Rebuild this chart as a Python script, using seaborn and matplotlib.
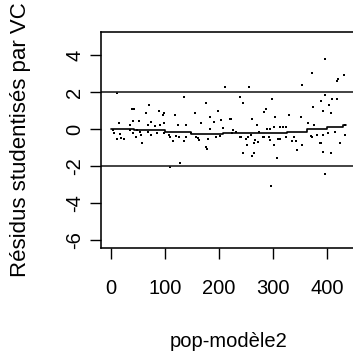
import numpy as np
import pandas as pd
import matplotlib
matplotlib.use("Agg")
import matplotlib.pyplot as plt
import seaborn as sns

# values
pop_x = [11, 71, 39, 43, 64, 88, 97, 14, 35, 41, 52, 68, 75, 81, 91, 3, 6, 17, 11, 18,
         25, 36, 41, 46, 56, 57, 74, 86, 48, 54, 68,
         135, 176, 198, 99, 118, 156, 184, 191, 204, 99, 124, 138, 167, 183, 207, 99, 107,
         110, 114, 121, 126, 135, 138, 157, 161, 163, 180, 176, 177, 195, 202, 127, 110, 149,
         255, 212, 238, 244, 298, 287, 283, 304, 329, 220, 222, 262, 270, 288, 294, 301, 313,
         319, 325, 224, 238, 241, 250, 253, 259, 267, 272, 281, 284, 293, 295, 309, 313, 324,
         251, 265, 302, 244, 262, 265, 307, 226, 231, 275, 297,
         354, 372, 396, 418, 421, 431, 396, 389, 410, 418, 404, 375, 393, 407, 351, 365, 376,
         433, 339, 336, 343, 344, 354, 370, 373, 382, 393, 401, 414, 433, 387, 389, 393, 407,
         425, 396]
resid = [1.96, 1.30, 1.06, 1.06, 0.85, 0.97, 0.76, 0.31, 0.22, 0.42, 0.42, 0.22, 0.38, 0.18,
         0.23, -0.05, -0.20, -0.27, -0.56, -0.50, -0.56, -0.05, -0.20, -0.42, -0.32, -0.77,
         -0.32, -0.23, -0.05, -0.15, -0.15,
         1.75, 1.39, 0.97, 0.85, 0.76, 0.85, 0.63, 0.39, 0.49, 0.31, 0.22, 0.22, 0.31, -0.02,
         0.04, -0.20, -0.32, -0.45, -0.65, -0.38, -0.45, -0.65, -0.42, -0.42, -0.50, -0.59,
         -0.56, -0.96, -1.10, -0.45, -0.38, -1.85, -2.07, -0.23,
         2.29, 2.25, 1.75, 1.42, 1.62, 1.06, 0.94, 0.63, 0.76, 0.52, 0.52, 0.52, 0.22, -0.02,
         -0.02, 0.09, 0.09, 0.09, 0.09, -0.23, -0.45, -0.45, -0.56, -0.42, -0.32, -0.59, -0.69,
         -0.45, -0.45, -0.45, -0.59, -0.56, -0.56, -0.42, -0.86, -0.74, -0.86, -1.31, -1.46,
         -1.31, -1.55, -0.05, -0.15, -0.15, -3.06,
         2.38, 3.04, 3.78, 2.59, 2.70, 2.92, 1.84, 1.51, 1.62, 1.62, 1.30, 1.21, 0.97, 0.85,
         0.63, 0.31, 0.22, 0.22, -0.45, -0.65, -0.65, -1.12, -0.86, -0.38, -0.45, -0.32,
         -0.32, -0.20, -0.15, -0.32, -0.77, -0.77, -1.23, -1.31, -0.77, -2.43]

# running (step) smoother
smooth_x = [0, 42, 100, 148, 207, 326, 363, 400, 430, 436]
smooth_y = [-0.02, -0.06, -0.14, -0.25, -0.2, -0.15, -0.02, 0.09, 0.2, 0.2]

df = pd.DataFrame({"pop": pop_x, "res": resid})
sm = pd.DataFrame({"x": smooth_x, "y": smooth_y})

sns.set_theme(style="white")
plt.rcParams["font.family"] = ["Liberation Sans", "DejaVu Sans"]

fig = plt.figure(figsize=(3.53, 3.60), dpi=100)
ax = fig.add_axes([101 / 353, 112 / 360, 260 / 353, 216 / 360])

sns.scatterplot(data=df, x="pop", y="res", ax=ax, color="black", marker="s",
                s=2.5, linewidth=0)
sns.lineplot(data=sm, x="x", y="y", ax=ax, color="black", linewidth=1.2,
             drawstyle="steps-post", estimator=None, sort=False)

for h in (2, -2):
    ax.axhline(h, color="#222222", linewidth=1.2)

ax.set_xlim(-18.5, 463)
ax.set_ylim(-6.43, 5.24)
ax.set_xticks([0, 100, 200, 300, 400])
ax.set_yticks([-6, -4, -2, 0, 2, 4])
ax.set_yticklabels(["-6", "-4", "-2", "0", "2", "4"], rotation=90, va="center")

for s in ax.spines.values():
    s.set_color("black")
    s.set_linewidth(1.15)

ax.tick_params(axis="both", direction="out", length=8, width=1.0, color="black",
               labelsize=14.5, labelcolor="black", bottom=True, left=True)
ax.tick_params(axis="x", pad=14)
ax.tick_params(axis="y", pad=4)

ax.set_xlabel("pop-modèle2", fontsize=14.5, color="black")
ax.xaxis.set_label_coords(0.49, -0.435)
ax.xaxis.label.set_va("center")
ax.set_ylabel("Résidus studentisés par VC", fontsize=16, color="black")
ax.yaxis.set_label_coords(-0.31, 0.5)
ax.yaxis.label.set_va("center")

fig.savefig("out.png", dpi=100)
